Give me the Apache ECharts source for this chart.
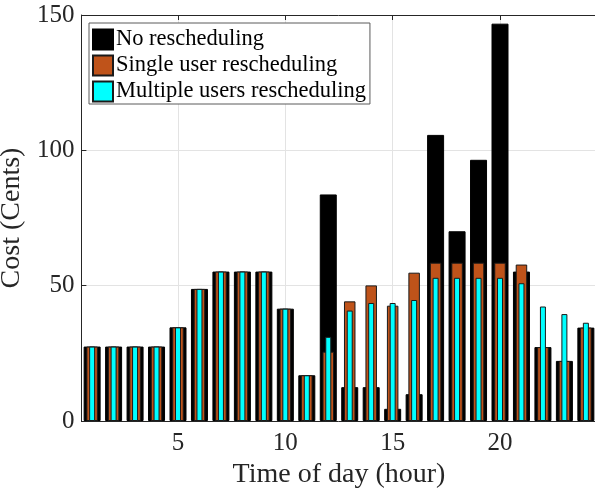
<!DOCTYPE html>
<html>
<head>
<meta charset="utf-8">
<script src="https://cdn.jsdelivr.net/npm/echarts@6/dist/echarts.min.js"></script>
<style>
  html, body { margin: 0; padding: 0; background: #fff; }
  #chart { width: 595px; height: 489px; }
</style>
</head>
<body>
<div id="chart"></div>
<script>
// Hourly cost (cents) under three scheduling strategies
const hours = [1,2,3,4,5,6,7,8,9,10,11,12,13,14,15,16,17,18,19,20,21,22,23,24];
const noResched = [27.5,27.5,27.5,27.5,34.6,48.8,55.2,55.2,55.2,41.5,16.9,83.7,12.5,12.5,4.5,9.9,105.7,70.1,96.5,146.8,55.2,27.3,22.2,34.5];
const singleResched = [27.5,27.5,27.5,27.5,34.6,48.8,55.2,55.2,55.2,41.5,16.9,25.6,44.2,50.1,42.6,54.8,58.5,58.5,58.5,58.5,57.8,27.3,22.2,34.5];
const multiResched = [27.5,27.5,27.5,27.5,34.6,48.8,55.2,55.2,55.2,41.5,16.9,31.1,40.8,43.6,43.6,44.7,52.9,52.9,52.9,52.9,50.9,42.3,39.5,36.3];
const xTicks = [5, 10, 15, 20];
const seriesNames = ['No rescheduling', 'Single user rescheduling', 'Multiple users rescheduling'];

const FONT = "'Liberation Serif', 'Times New Roman', serif";
const INK = '#262626';

const pairs = arr => hours.map((h, i) => [h, arr[i]]);

function xAxisDef(opts) {
  return Object.assign({
    type: 'value', min: 0.5, max: 24.5,
    axisLine: { show: false }, axisTick: { show: false },
    axisLabel: { show: false }, splitLine: { show: false }
  }, opts);
}

const chart = echarts.init(document.getElementById('chart'), null, { renderer: 'canvas' });
chart.setOption({
  animation: false,
  backgroundColor: '#fff',
  grid: { left: 81.4, right: -1.6, top: 15, bottom: 68, containLabel: false, outerBoundsMode: 'none' },
  legend: {
    orient: 'vertical', left: 89, top: 23,
    itemWidth: 20, itemHeight: 20, itemGap: 3,
    padding: [5, 4, 1, 3],
    backgroundColor: '#fff', borderColor: '#5a5a5a', borderWidth: 1,
    icon: 'rect',
    textStyle: { fontFamily: FONT, fontSize: 22.5, color: '#000', lineHeight: 20, height: 20, padding: [0, 0, 0, -2] },
    data: seriesNames
  },
  xAxis: [
    xAxisDef({
      position: 'bottom',
      name: 'Time of day (hour)', nameLocation: 'middle', nameGap: 35,
      nameTextStyle: { fontFamily: FONT, fontSize: 28, color: INK },
      axisLine: { show: true, onZero: false, lineStyle: { color: INK, width: 1 } },
      axisTick: { show: true, inside: true, length: 5, customValues: xTicks, lineStyle: { color: INK } },
      axisLabel: { show: true, customValues: xTicks, margin: 10, fontFamily: FONT, fontSize: 25, color: INK },
      splitLine: { show: true, lineStyle: { color: '#e3e3e3', width: 1 } }
    }),
    xAxisDef({
      position: 'top',
      axisLine: { show: true, onZero: false, lineStyle: { color: INK, width: 1 } },
      axisTick: { show: true, inside: true, length: 5, customValues: xTicks, lineStyle: { color: INK } }
    }),
    xAxisDef({ show: false })
  ],
  yAxis: {
    type: 'value', min: 0, max: 150, interval: 50,
    name: 'Cost (Cents)', nameLocation: 'middle', nameGap: 45,
    nameTextStyle: { fontFamily: FONT, fontSize: 28, color: INK },
    axisLine: { show: true, lineStyle: { color: INK, width: 1 } },
    axisTick: { show: true, inside: true, length: 5, lineStyle: { color: INK } },
    axisLabel: { margin: 7, fontFamily: FONT, fontSize: 25, color: INK },
    splitLine: { show: true, lineStyle: { color: '#e3e3e3', width: 1 } }
  },
  series: [
    {
      name: seriesNames[0], type: 'bar', xAxisIndex: 0, barWidth: 17,
      data: pairs(noResched),
      itemStyle: { color: '#000', borderColor: '#000', borderWidth: 1 },
      z: 2
    },
    {
      name: seriesNames[1], type: 'bar', xAxisIndex: 1, barWidth: 11.5,
      data: pairs(singleResched),
      itemStyle: { color: '#BF531A', borderColor: '#1a1a1a', borderWidth: 1 },
      z: 3
    },
    {
      name: seriesNames[2], type: 'bar', xAxisIndex: 2, barWidth: 6,
      data: pairs(multiResched),
      itemStyle: { color: '#00FFFF', borderColor: '#1a1a1a', borderWidth: 1 },
      z: 4
    }
  ]
});
</script>
</body>
</html>
